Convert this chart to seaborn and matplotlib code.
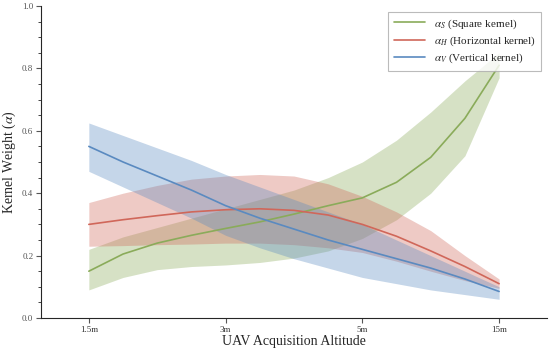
import matplotlib
matplotlib.use('Agg')

import numpy as np
import pandas as pd
import matplotlib.pyplot as plt
import seaborn as sns
from matplotlib.ticker import MultipleLocator

# Tick labels and sample positions (0 = 1.5m, 1 = 3m, 2 = 5m, 3 = 15m)
tick_labels = ['1.5m', '3m', '5m', '15m']
pos = [0, 0.25, 0.5, 0.75, 1, 1.25, 1.5, 1.75, 2, 2.25, 2.5, 2.75, 3]

# Square kernel weight and band
sq_mean = [0.15, 0.205, 0.24, 0.265, 0.287, 0.308, 0.333, 0.36, 0.385, 0.435, 0.515, 0.64, 0.81]
sq_low = [0.09, 0.13, 0.155, 0.165, 0.17, 0.178, 0.192, 0.215, 0.255, 0.315, 0.40, 0.52, 0.77]
sq_high = [0.22, 0.26, 0.29, 0.32, 0.35, 0.38, 0.41, 0.45, 0.50, 0.57, 0.66, 0.76, 0.85]

# Horizontal kernel weight and band
hz_mean = [0.30, 0.315, 0.328, 0.34, 0.347, 0.35, 0.345, 0.33, 0.30, 0.262, 0.215, 0.165, 0.11]
hz_low = [0.23, 0.232, 0.235, 0.237, 0.24, 0.24, 0.235, 0.225, 0.21, 0.182, 0.15, 0.12, 0.095]
hz_high = [0.37, 0.40, 0.425, 0.445, 0.455, 0.46, 0.455, 0.43, 0.39, 0.34, 0.28, 0.20, 0.125]

# Vertical kernel weight and band
vt_mean = [0.55, 0.50, 0.455, 0.41, 0.36, 0.32, 0.285, 0.25, 0.22, 0.19, 0.16, 0.125, 0.085]
vt_low = [0.47, 0.42, 0.37, 0.32, 0.265, 0.225, 0.19, 0.16, 0.13, 0.11, 0.09, 0.075, 0.06]
vt_high = [0.625, 0.585, 0.545, 0.505, 0.46, 0.42, 0.38, 0.34, 0.30, 0.25, 0.20, 0.15, 0.10]

names = [r'$\alpha_S$ (Square kernel)', r'$\alpha_H$ (Horizontal kernel)', r'$\alpha_V$ (Vertical kernel)']
colors = ['#8aab5a', '#d0675a', '#5a8ac0']

sns.set_style('ticks')
plt.rcParams['font.family'] = ['Liberation Serif', 'DejaVu Serif']
plt.rcParams['mathtext.fontset'] = 'stix'

rows = []
for name, ys in zip(names, [sq_mean, hz_mean, vt_mean]):
    for x, y in zip(pos, ys):
        rows.append({'pos': x, 'weight': y, 'kernel': name})
df = pd.DataFrame(rows)

fig = plt.figure(figsize=(5.5, 3.51), dpi=100)
ax = fig.add_axes([0.0745, 0.094, 0.92, 0.889])

bands = [(sq_low, sq_high), (hz_low, hz_high), (vt_low, vt_high)]
for (lo, hi), c in zip(bands, colors):
    ax.fill_between(pos, lo, hi, color=c, alpha=0.35, linewidth=0)

sns.lineplot(data=df, x='pos', y='weight', hue='kernel', palette=colors,
             linewidth=1.2, ax=ax)

ax.set_xlim(-0.35, 3.35)
ax.set_ylim(0, 1.0)
ax.set_xticks(range(len(tick_labels)))
ax.set_xticklabels(tick_labels, fontsize=6.5)
ax.yaxis.set_major_locator(MultipleLocator(0.2))
ax.yaxis.set_minor_locator(MultipleLocator(0.05))
ax.tick_params(axis='y', labelsize=6.5, colors='#555555', labelcolor='#555555', pad=2)
ax.tick_params(axis='x', colors='#555555', labelcolor='#333333', pad=2)
ax.set_xlabel('UAV Acquisition Altitude', fontsize=10, labelpad=1)
ax.set_ylabel(r'Kernel Weight ($\alpha$)', fontsize=10, labelpad=3)
sns.despine(ax=ax)

leg = ax.legend(loc='upper right', fontsize=8, frameon=True, fancybox=False,
                edgecolor='#aaaaaa', borderpad=0.5, handlelength=2.8,
                labelspacing=0.35)
leg.get_frame().set_linewidth(0.8)

fig.savefig('out.png', dpi=100)
